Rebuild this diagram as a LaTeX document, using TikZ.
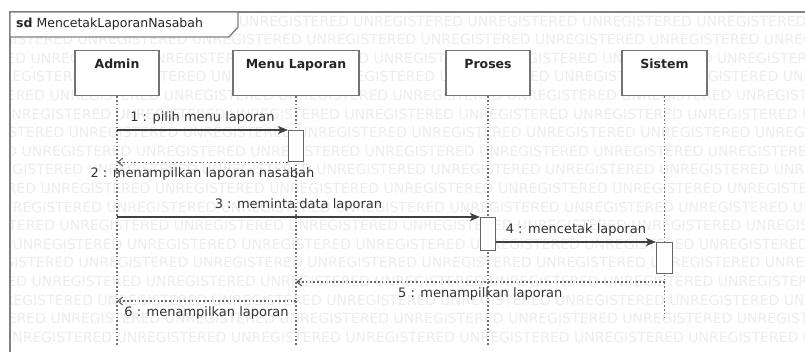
\documentclass[tikz,border=0pt]{standalone}
\usepackage{fontspec}
\setmainfont{DejaVu Sans}
\usetikzlibrary{arrows.meta}
\begin{document}
\begin{tikzpicture}[x=1pt,y=-1pt,
  frameline/.style={draw=black!50, line width=1.4pt},
  head/.style={draw=black!55, line width=1.2pt, fill=white, anchor=north,
    minimum height=45pt, inner xsep=0pt, inner ysep=9pt,
    text height=9pt, text depth=18pt, text=black!85,
    font=\fontsize{12.5}{14}\selectfont\bfseries},
  lifeline/.style={draw=black!55, line width=1.1pt, dash pattern=on 1.6pt off 2.2pt},
  actbox/.style={draw=black!60, line width=1.1pt, fill=white, minimum width=15pt, inner sep=0pt},
  msg/.style={draw=black!75, line width=1.2pt, -{Stealth[length=10pt, width=8pt, inset=2.5pt]}},
  ret/.style={draw=black!60, line width=1.1pt, dash pattern=on 1.6pt off 2.2pt,
    -{Straight Barb[length=5pt, width=8pt, line width=1.1pt]}},
  lbl/.style={midway, inner sep=0pt, text=black!80, font=\fontsize{13}{15}\selectfont},
  above lbl/.style={lbl, yshift=12pt},
  below lbl/.style={lbl, yshift=-12pt},
  wm/.style={inner sep=0pt, anchor=west, text=black!7, font=\fontsize{14}{16}\selectfont}
]
\useasboundingbox (0,0) rectangle (805,351);
\clip (0,0) rectangle (805,351);
\fill[white] (0,0) rectangle (805,351);

% evaluation-copy watermark rows behind the diagram
\begin{scope}
  \clip (10,12) rectangle (805,351);
  \foreach \k in {0,...,17} {
    \pgfmathsetmacro{\wx}{10 - mod(\k*47,113)}
    \node[wm] (wm\k) at ({\wx}, {21+18.6*\k})
      {UNREGISTERED UNREGISTERED UNREGISTERED UNREGISTERED UNREGISTERED UNREGISTERED UNREGISTERED UNREGISTERED};
  }
\end{scope}

% sequence diagram frame with its name tab
\draw[frameline] (10,360) -- (10,12) -- (815,12);
\filldraw[frameline, fill=white] (10,12) -- (238,12) -- (238,27) -- (229,37) -- (10,37) -- cycle;
\node[anchor=west, inner sep=0pt, text=black!85, font=\fontsize{12.5}{14}\selectfont] (title) at (16,24.5)
  {\textbf{sd} MencetakLaporanNasabah};

% lifeline heads
\node[head, minimum width=84pt]  (admin)  at (117,50)   {Admin};
\node[head, minimum width=126pt] (menu)   at (296,50)   {Menu Laporan};
\node[head, minimum width=84pt]  (proses) at (488,50)   {Proses};
\node[head, minimum width=85pt]  (sistem) at (664.5,50) {Sistem};

% lifelines
\coordinate (adminEnd)  at (admin |- 0,345);
\coordinate (menuEnd)   at (menu |- 0,345);
\coordinate (prosesEnd) at (proses |- 0,345);
\coordinate (sistemEnd) at (sistem |- 0,317);
\draw[lifeline] (admin.south)  -- (adminEnd);
\draw[lifeline] (menu.south)   -- (menuEnd);
\draw[lifeline] (proses.south) -- (prosesEnd);
\draw[lifeline] (sistem.south) -- (sistemEnd);

% activation bars
\node[actbox, minimum height=31pt, anchor=north] (act1) at (296,130)   {};
\node[actbox, minimum height=33pt, anchor=north] (act2) at (488,217)   {};
\node[actbox, minimum height=31pt, minimum width=16pt, anchor=north] (act3) at (664.5,242) {};

% messages
\coordinate (m1s) at (admin |- act1.north west);
\draw[msg] (m1s) -- node[above lbl] {1 : pilih menu laporan} (act1.north west);

\coordinate (m2e) at (admin |- act1.south west);
\draw[ret] (act1.south west) -- node[below lbl] {2 : menampilkan laporan nasabah} (m2e);

\coordinate (m3s) at (admin |- act2.north west);
\draw[msg] (m3s) -- node[above lbl] {3 : meminta data laporan} (act2.north west);

\coordinate (m4s) at (act2.east |- act3.north west);
\draw[msg] (m4s) -- node[above lbl] {4 : mencetak laporan} (act3.north west);

\coordinate (m5s) at (sistem |- 0,282);
\coordinate (m5e) at (menu |- 0,282);
\draw[ret] (m5s) -- node[below lbl] {5 : menampilkan laporan} (m5e);

\coordinate (m6s) at (menu |- 0,301);
\coordinate (m6e) at (admin |- 0,301);
\draw[ret] (m6s) -- node[below lbl] {6 : menampilkan laporan} (m6e);
\end{tikzpicture}
\end{document}
